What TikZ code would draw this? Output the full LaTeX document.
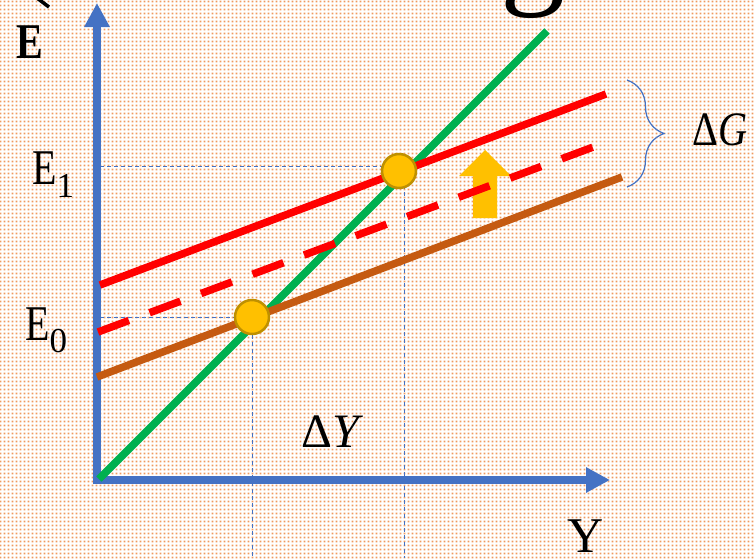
\documentclass[tikz,border=0pt]{standalone}
\usepackage{fontspec}
\setmainfont{Liberation Serif}
\usepackage{tikz}
\usetikzlibrary{arrows.meta,positioning,calc,decorations.pathreplacing,patterns.meta}
\definecolor{axblue}{HTML}{4472C4}
\definecolor{eqgreen}{HTML}{00B050}
\definecolor{adred}{HTML}{FF0000}
\definecolor{adbrown}{HTML}{C55A11}
\definecolor{ptgold}{HTML}{FFC000}
\definecolor{ptedge}{HTML}{BF9000}
\definecolor{bgdot}{HTML}{F09A5E}
\newcommand{\sqz}[2][0.8]{\scalebox{#1}[1]{#2}}
\tikzdeclarepattern{
  name=bgdots,
  type=uncolored,
  bottom left={(0pt,0pt)},
  top right={(4pt,4pt)},
  tile size={(4pt,4pt)},
  code={\fill (0.9pt,0.9pt) rectangle (3.1pt,3.1pt);}
}

\begin{document}
\begin{tikzpicture}[x=1pt,y=-1pt,
  axis/.style={draw=axblue,line width=7.5pt,-{Triangle[length=24pt,width=24pt]}},
  curve/.style={line width=7.5pt},
  guide/.style={draw=axblue,line width=0.9pt,dash pattern=on 4pt off 3pt},
  eqpt/.style={circle,fill=ptgold,draw=ptedge,line width=2.5pt,minimum size=34pt,inner sep=0pt},
  lbl/.style={inner sep=0pt,font=\fontsize{50}{60}\selectfont}]
  \useasboundingbox (0,0) rectangle (754,558);
  \clip (0,0) rectangle (754,558);
  \fill[white] (0,0) rectangle (754,558);
  \fill[pattern=bgdots,pattern color=bgdot] (0,0) rectangle (754,558);

  % axes and curves
  \coordinate (O) at (97,480);
  \coordinate (ybot) at (97,483.5);
  \coordinate (ytip) at (97,3);
  \coordinate (xbeg) at (93.5,480);
  \coordinate (xtip) at (610,480);
  \coordinate (g0) at (99,479);
  \coordinate (g1) at (547,31);
  \coordinate (b0) at (97,377);
  \coordinate (b1) at (622,177);
  \coordinate (r0) at (100,285);
  \coordinate (r1) at (606,94);
  \coordinate (d0) at (98,332);
  \coordinate (d1) at (612,140);

  % guides to the equilibria
  \foreach \hy/\hx/\vx/\vy in {317/240/252/335,166/395/404/185} {
    \draw[guide] (100,\hy) coordinate (gh) -- (\hx,\hy) coordinate (ge);
    \draw[guide] (\vx,\vy) coordinate (gv) -- (\vx,558) coordinate (gb);
  }

  \draw[axis] (ybot) -- (ytip);
  \draw[axis] (xbeg) -- (xtip);
  \draw[curve,eqgreen] (g0) -- (g1);
  \draw[curve,adbrown] (b0) -- (b1);
  \draw[curve,adred] (r0) -- (r1);
  \fill[ptgold] (473,218) -- (497,218) -- (497,176) -- (511,176) -- (485,150)
    -- (459,176) -- (473,176) -- cycle;
  \draw[curve,adred,dash pattern=on 33pt off 22pt] (d0) -- (d1);

  \node[eqpt] (pt0) at (252,317) {};
  \node[eqpt] (pt1) at (399,171) {};

  % brace and labels
  \coordinate (bt) at (627,80);
  \coordinate (bb) at (627,187);
  \draw[axblue,line width=1.2pt,decorate,decoration={brace,amplitude=37pt}] (bt) -- (bb);
  \node[lbl,anchor=base,font=\fontsize{48}{58}\selectfont] (dG) at (720,145) {\sqz[0.84]{Δ\textit{G}}};
  \node[lbl,anchor=base,font=\fontsize{48}{58}\selectfont] (dY) at (332.5,447) {Δ\textit{Y}};
  \node[lbl,anchor=base west] (lE) at (16,58) {\sqz{\bfseries E}};
  \node[lbl,anchor=base west] (lE1) at (32,184) {\sqz{E}\raisebox{-13pt}{\fontsize{35}{40}\selectfont 1}};
  \node[lbl,anchor=base west] (lE0) at (25,340) {\sqz{E}\raisebox{-12pt}{\fontsize{35}{40}\selectfont 0}};
  \node[lbl,anchor=base] (lY) at (585.5,552) {Y};

  % cut-off text at the top
  \node[lbl,anchor=base,font=\fontsize{130}{130}\selectfont] (topg) at (533,-10) {g};
  \draw[line width=3.5pt] (37,-2) -- (49,7);
\end{tikzpicture}
\end{document}
